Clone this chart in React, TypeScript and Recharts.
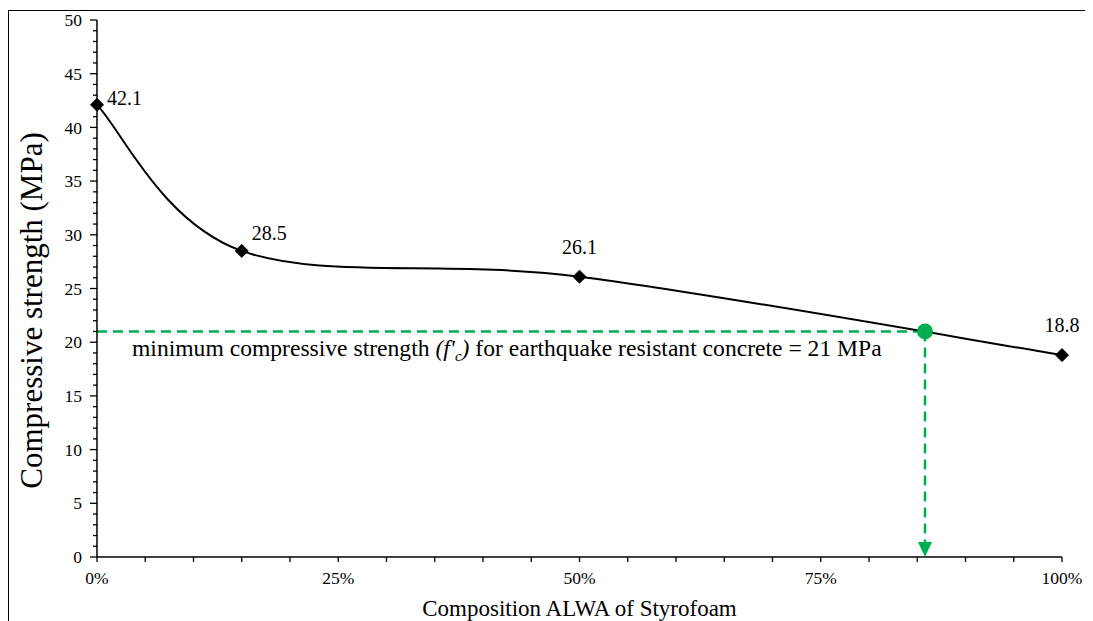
import React from "react";
import {
  ComposedChart,
  Line,
  Scatter,
  XAxis,
  YAxis,
  ReferenceLine,
  LabelList,
} from "recharts";

// composition of ALWA (Styrofoam), % and measured compressive strength, MPa
const composition = [0, 15, 50, 100];
const strength = [42.1, 28.5, 26.1, 18.8];

// minimum f'c for earthquake resistant concrete and where the curve crosses it
const minStrength = 21;
const crossComposition = 85.8;

const xTicks = [0, 5, 10, 15, 20, 25, 30, 35, 40, 45, 50, 55, 60, 65, 70, 75, 80, 85, 90, 95, 100];
const xLabelled = [0, 25, 50, 75, 100];
const yLabelled = [0, 5, 10, 15, 20, 25, 30, 35, 40, 45, 50];
const yTicks = Array.from({ length: 51 }, (_, i) => i);

const FONT = "Liberation Serif, Times New Roman, DejaVu Serif, serif";
const GREEN = "#00B050";

const seriesData = composition.map((x, i) => ({ x, y: strength[i] }));
const crossPoint = [{ x: crossComposition, y: minStrength }];
const arrowTip = [{ x: crossComposition, y: 0 }];

// Excel-like smoothed line (cardinal bezier, 1/6 of the neighbour chord)
function excelSmooth(context: any) {
  let pts: [number, number][] = [];
  return {
    areaStart() {},
    areaEnd() {},
    lineStart() {
      pts = [];
    },
    point(x: number, y: number) {
      pts.push([+x, +y]);
    },
    lineEnd() {
      if (!pts.length) return;
      context.moveTo(pts[0][0], pts[0][1]);
      for (let i = 0; i < pts.length - 1; i++) {
        const p0 = pts[Math.max(i - 1, 0)];
        const p1 = pts[i];
        const p2 = pts[i + 1];
        const p3 = pts[Math.min(i + 2, pts.length - 1)];
        context.bezierCurveTo(
          p1[0] + (p2[0] - p0[0]) / 6,
          p1[1] + (p2[1] - p0[1]) / 6,
          p2[0] - (p3[0] - p1[0]) / 6,
          p2[1] - (p3[1] - p1[1]) / 6,
          p2[0],
          p2[1]
        );
      }
    },
  };
}

const txt = (size: number, extra: React.CSSProperties = {}): React.CSSProperties => ({
  fontFamily: FONT,
  fontSize: size,
  fill: "#000",
  ...extra,
});

const Diamond = (props: any) => {
  const { cx, cy } = props;
  if (cx == null || cy == null) return null;
  const r = 6.5;
  return (
    <polygon
      points={`${cx},${cy - r} ${cx + r},${cy} ${cx},${cy + r} ${cx - r},${cy}`}
      fill="#000"
      stroke="#000"
    />
  );
};

const PointLabel = (props: any) => {
  const { x, y, value, index } = props;
  const left = index < 2;
  const dx = left ? 10 : 0;
  const dy = index === 0 ? -7 : index === 1 ? -18 : -30;
  return (
    <text x={x + dx} y={y + dy} dy="0.35em" textAnchor={left ? "start" : "middle"} style={txt(20)}>
      {value}
    </text>
  );
};

const YTick = (props: any) => {
  const { x, y, payload } = props;
  const major = yLabelled.includes(payload.value);
  return (
    <g>
      <line x1={x - (major ? 7 : 4)} x2={x} y1={y} y2={y} stroke="#000" strokeWidth={1.3} />
      {major && (
        <text x={x - 15} y={y} dy="0.35em" textAnchor="end" style={txt(17.5)}>
          {payload.value}
        </text>
      )}
    </g>
  );
};

const XTick = (props: any) => {
  const { x, y, payload } = props;
  if (!xLabelled.includes(payload.value)) return null;
  return (
    <text x={x} y={y} dy="0.71em" textAnchor="middle" style={txt(17.5)}>
      {`${payload.value}%`}
    </text>
  );
};

const AnnotationLabel = (props: any) => {
  const vb = props.viewBox || {};
  return (
    <text x={vb.x + 35} y={vb.y + 25} style={txt(23.6)}>
      minimum compressive strength
      <tspan fontStyle="italic"> (f'</tspan>
      <tspan fontStyle="italic" fontSize={15} dy={5}>c</tspan>
      <tspan fontStyle="italic" dy={-5}>)</tspan>
      <tspan> for earthquake resistant concrete = 21 MPa</tspan>
    </text>
  );
};

const YTitle = (props: any) => {
  const vb = props.viewBox || {};
  const cx = 22;
  const cy = vb.y + vb.height / 2 + 22;
  return (
    <text x={cx} y={cy} transform={`rotate(-90 ${cx} ${cy})`} textAnchor="middle" dy="0.35em" style={txt(31)}>
      Compressive strength (MPa)
    </text>
  );
};

const XTitle = (props: any) => {
  const vb = props.viewBox || {};
  return (
    <text x={vb.x + vb.width / 2} y={vb.y + 59} textAnchor="middle" style={txt(23)}>
      Composition ALWA of Styrofoam
    </text>
  );
};

const GreenDot = (props: any) => {
  const { cx, cy } = props;
  return <circle cx={cx} cy={cy} r={8} fill={GREEN} />;
};

const ArrowHead = (props: any) => {
  const { cx, cy } = props;
  return <polygon points={`${cx - 7},${cy - 15} ${cx + 7},${cy - 15} ${cx},${cy}`} fill={GREEN} />;
};

export default function App() {
  return (
    <div style={{ paddingTop: 2, fontFamily: FONT }}>
      <div
        style={{
          width: 1083,
          height: 612,
          borderLeft: "1px solid #000",
          borderTop: "1px solid #000",
          borderRight: "1px solid #000",
        }}
      >
        <ComposedChart width={1083} height={610} margin={{ top: 9, right: 30, left: 0, bottom: 0 }}>
          <XAxis
            type="number"
            dataKey="x"
            domain={[0, 100]}
            ticks={xTicks}
            interval={0}
            tickSize={5}
            tickMargin={10}
            height={64}
            axisLine={{ stroke: "#000", strokeWidth: 1.5 }}
            tickLine={{ stroke: "#000", strokeWidth: 1.3 }}
            tick={<XTick />}
            label={<XTitle />}
          />
          <YAxis
            type="number"
            dataKey="y"
            domain={[0, 50]}
            ticks={yTicks}
            interval={0}
            width={88}
            tickSize={0}
            tickMargin={0}
            tickLine={false}
            axisLine={{ stroke: "#000", strokeWidth: 1.5 }}
            tick={<YTick />}
            label={<YTitle />}
          />
          <ReferenceLine
            segment={[
              { x: 0, y: minStrength },
              { x: crossComposition, y: minStrength },
            ]}
            stroke={GREEN}
            strokeWidth={2.5}
            strokeDasharray="10 6"
            label={<AnnotationLabel />}
          />
          <ReferenceLine
            segment={[
              { x: crossComposition, y: minStrength },
              { x: crossComposition, y: 1.2 },
            ]}
            stroke={GREEN}
            strokeWidth={2.5}
            strokeDasharray="10 6"
          />
          <Line
            data={seriesData}
            dataKey="y"
            type={excelSmooth as any}
            stroke="#000"
            strokeWidth={2}
            dot={<Diamond />}
            activeDot={false}
            isAnimationActive={false}
          >
            <LabelList dataKey="y" content={<PointLabel />} />
          </Line>
          <Scatter data={crossPoint} dataKey="y" shape={<GreenDot />} isAnimationActive={false} />
          <Scatter data={arrowTip} dataKey="y" shape={<ArrowHead />} isAnimationActive={false} />
        </ComposedChart>
      </div>
    </div>
  );
}
